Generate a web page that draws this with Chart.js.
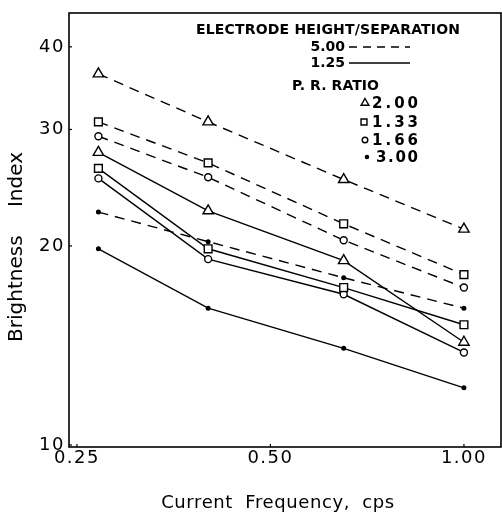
<!DOCTYPE html>
<html><head><meta charset="utf-8">
<script src="https://cdn.jsdelivr.net/npm/chart.js@4"></script>
<style>html,body{margin:0;padding:0;background:#fff}#wrap{width:502px;height:516px}</style>
</head><body><div id="wrap"><canvas id="c" width="502" height="516"></canvas></div>
<script>
const frequencies = [0.27, 0.40, 0.65, 1.00];
const xTicks = [0.25, 0.50, 1.00];
const yTicks = [10, 20, 30, 40];
const xTitle = 'Current Frequency, cps';
const yTitle = 'Brightness Index';
const legendHeader = 'ELECTRODE HEIGHT/SEPARATION';
const ratioHeader = 'P. R. RATIO';
const heightLabels = ['5.00', '1.25'];
const ratioLabels = ['2.00', '1.33', '1.66', '3.00'];
const h500_r200 = [36.4, 30.8, 25.2, 21.2];
const h500_r133 = [30.8, 26.7, 21.6, 18.1];
const h500_r166 = [29.3, 25.4, 20.4, 17.3];
const h500_r300 = [22.5, 20.3, 17.9, 16.1];
const h125_r200 = [27.7, 22.6, 19.0, 14.3];
const h125_r133 = [26.2, 19.8, 17.3, 15.2];
const h125_r166 = [25.3, 19.1, 16.9, 13.8];
const h125_r300 = [19.8, 16.1, 14.0, 12.2];

const FONT = '"DejaVu Sans", sans-serif';
const markers = [
  {style:'triangle', r:6, fill:'#fff', lr:4.5},
  {style:'rect', r:5.5, fill:'#fff', lr:4.2},
  {style:'circle', r:3.5, fill:'#fff', lr:2.8},
  {style:'circle', r:1.8, fill:'#000', lr:1.6}
];
const dashPat = [10, 7];
function mk(vals, mi, dashed, label) {
  const m = markers[mi];
  return {
    label: label,
    data: vals.map((v, i) => ({x: frequencies[i], y: v})),
    borderColor: '#000', borderWidth: 1.4, borderDash: dashed ? dashPat : [],
    pointStyle: m.style, pointRadius: m.r, pointBackgroundColor: m.fill,
    pointBorderColor: '#000', pointBorderWidth: 1.4, tension: 0, fill: false
  };
}
const datasets = [
  mk(h500_r200, 0, true, heightLabels[0] + ' / ' + ratioLabels[0]),
  mk(h500_r133, 1, true, heightLabels[0] + ' / ' + ratioLabels[1]),
  mk(h500_r166, 2, true, heightLabels[0] + ' / ' + ratioLabels[2]),
  mk(h500_r300, 3, true, heightLabels[0] + ' / ' + ratioLabels[3]),
  mk(h125_r200, 0, false, heightLabels[1] + ' / ' + ratioLabels[0]),
  mk(h125_r133, 1, false, heightLabels[1] + ' / ' + ratioLabels[1]),
  mk(h125_r166, 2, false, heightLabels[1] + ' / ' + ratioLabels[2]),
  mk(h125_r300, 3, false, heightLabels[1] + ' / ' + ratioLabels[3])
];

// draw text stretched with letter spacing to a target width, left edge at x
function spacedText(ctx, text, x, y, size, weight, target) {
  ctx.font = weight + ' ' + size + 'px ' + FONT;
  ctx.letterSpacing = '0px';
  const w = ctx.measureText(text).width;
  const ls = Math.max(0, (target - w) / Math.max(1, text.length - 1));
  ctx.letterSpacing = ls + 'px';
  ctx.textAlign = 'left';
  ctx.textBaseline = 'middle';
  ctx.fillText(text, x, y);
  ctx.letterSpacing = '0px';
}

const deco = {
  id: 'deco',
  beforeDraw(chart) { chart.ctx.letterSpacing = '1.5px'; },
  beforeDatasetsDraw(chart) { chart.ctx.letterSpacing = '0px'; },
  afterDraw(chart) {
    const ctx = chart.ctx, a = chart.chartArea;
    const xs = chart.scales.x, ys = chart.scales.y;
    ctx.save();
    ctx.letterSpacing = '0px';
    ctx.strokeStyle = '#000';
    ctx.lineWidth = 1.6;
    ctx.strokeRect(a.left, a.top, a.right - a.left, a.bottom - a.top);
    ctx.lineWidth = 1.2;
    yTicks.forEach(v => { const y = ys.getPixelForValue(v); ctx.beginPath(); ctx.moveTo(a.left, y); ctx.lineTo(a.left + 3, y); ctx.stroke(); });
    xTicks.forEach(v => { const x = xs.getPixelForValue(v); ctx.beginPath(); ctx.moveTo(x, a.bottom); ctx.lineTo(x, a.bottom - 3); ctx.stroke(); });
    ctx.fillStyle = '#000';
    // axis titles
    ctx.font = '18px ' + FONT;
    ctx.textAlign = 'center';
    ctx.textBaseline = 'middle';
    ctx.wordSpacing = '6px';
    ctx.letterSpacing = '0.6px';
    ctx.fillText(xTitle, 278, 503);
    ctx.save();
    ctx.translate(17, 247);
    ctx.rotate(-Math.PI / 2);
    ctx.font = '20px ' + FONT;
    ctx.letterSpacing = '0px';
    ctx.wordSpacing = '22px';
    ctx.fillText(yTitle, 0, 0);
    ctx.restore();
    ctx.wordSpacing = '0px';
    ctx.letterSpacing = '0px';
    // legend
    spacedText(ctx, legendHeader, 196, 30, 14, 'bold', 264);
    const hy = [47, 63];
    ctx.font = 'bold 14px ' + FONT;
    heightLabels.forEach((t, i) => {
      ctx.textAlign = 'right';
      ctx.textBaseline = 'middle';
      ctx.fillText(t, 345, hy[i]);
      ctx.beginPath();
      ctx.setLineDash(i === 0 ? [8, 6] : []);
      ctx.lineWidth = 1.4;
      ctx.moveTo(349, hy[i]); ctx.lineTo(410, hy[i]); ctx.stroke();
    });
    ctx.setLineDash([]);
    spacedText(ctx, ratioHeader, 292, 86, 14, 'bold', 87);
    const ry = [103, 122, 140, 157];
    const mx = [365, 364, 365, 367];
    ratioLabels.forEach((t, i) => {
      const m = markers[i];
      ctx.fillStyle = m.fill; ctx.strokeStyle = '#000'; ctx.lineWidth = 1.4;
      Chart.helpers.drawPoint(ctx, {pointStyle: m.style, radius: m.lr, rotation: 0, borderWidth: 1.4}, mx[i], ry[i]);
      ctx.fillStyle = '#000';
      spacedText(ctx, t, i === 3 ? 376 : 372, ry[i] + 1, 15, 'bold', i === 3 ? 42 : 46);
    });
    ctx.restore();
  }
};

new Chart(document.getElementById('c'), {
  type: 'line',
  data: {datasets},
  options: {
    responsive: false, animation: false,
    layout: {autoPadding: false, padding: {left: 0, right: 1, top: 13, bottom: 0}},
    plugins: {legend: {display: false}, tooltip: {enabled: false}},
    scales: {
      x: {
        type: 'logarithmic', min: 0.243, max: 1.142,
        afterBuildTicks(s) { s.ticks = xTicks.map(v => ({value: v})); },
        afterFit(s) { s.height = 69; s.paddingLeft = 0; s.paddingRight = 0; },
        ticks: {color: '#000', font: {family: FONT, size: 18}, padding: 1, maxRotation: 0, autoSkip: false,
          callback: v => Number(v).toFixed(2)},
        grid: {display: false, drawTicks: false},
        border: {display: false},
        title: {display: false}
      },
      y: {
        type: 'logarithmic', min: 9.93, max: 45,
        afterBuildTicks(s) { s.ticks = yTicks.map(v => ({value: v})); },
        afterFit(s) { s.width = 69; s.paddingTop = 0; s.paddingBottom = 0; },
        ticks: {color: '#000', font: {family: FONT, size: 18}, padding: 4, autoSkip: false,
          callback: v => String(v)},
        grid: {display: false, drawTicks: false},
        border: {display: false},
        title: {display: false}
      }
    }
  },
  plugins: [deco]
});
</script></body></html>
